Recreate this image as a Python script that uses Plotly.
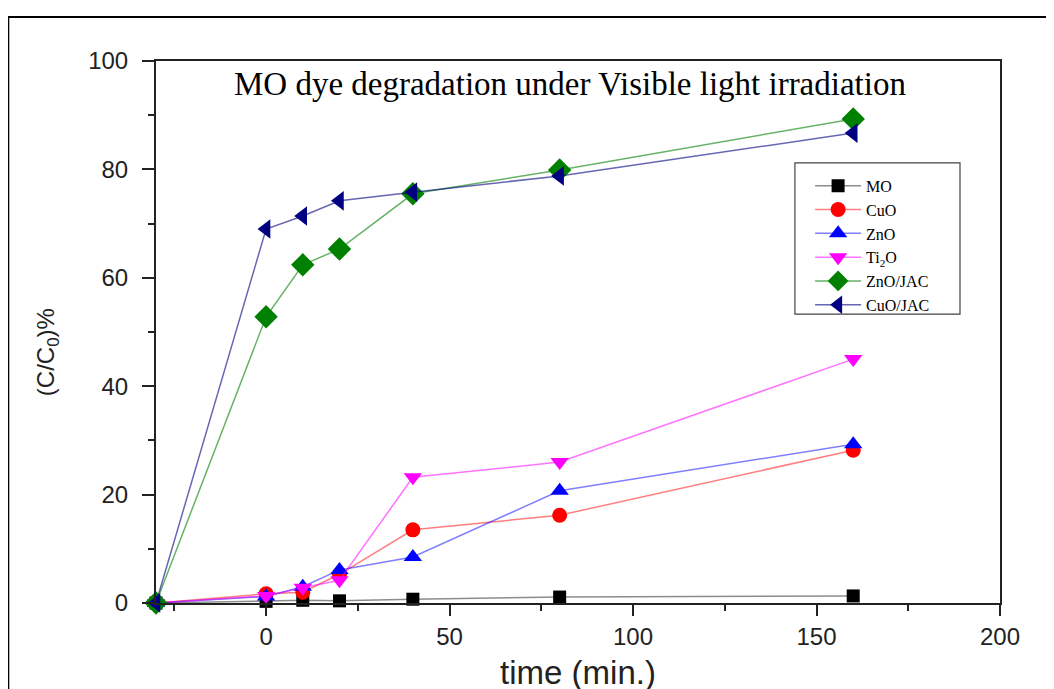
import plotly.graph_objects as go

time = [-30, 0, 10, 20, 40, 80, 160]
mo = [0, 0.3, 0.5, 0.4, 0.7, 1.1, 1.3]
cuo = [0, 1.7, 2.0, 5.3, 13.5, 16.2, 28.2]
zno = [0, 1.2, 3.0, 6.1, 8.5, 20.7, 29.3]
ti2o = [0, 1.3, 2.8, 4.2, 23.2, 26.0, 45.0]
zno_jac = [0, 52.8, 62.4, 65.3, 75.5, 79.9, 89.3]
cuo_jac = [0, 69.0, 71.4, 74.2, 75.8, 78.8, 86.7]

series = [
    ("MO", mo, "black", "rgba(0,0,0,0.45)", "square", 13),
    ("CuO", cuo, "red", "rgba(255,0,0,0.5)", "circle", 15),
    ("ZnO", zno, "blue", "rgba(0,0,255,0.5)", "triangle-up", 16),
    ("Ti<sub>2</sub>O", ti2o, "magenta", "rgba(255,0,255,0.55)", "triangle-down", 16),
    ("ZnO/JAC", zno_jac, "green", "rgba(0,128,0,0.6)", "diamond", 18),
    ("CuO/JAC", cuo_jac, "navy", "rgba(0,0,128,0.6)", "triangle-left", 17),
]

fig = go.Figure()
for name, ys, mc, lc, sym, sz in series:
    fig.add_trace(go.Scatter(
        x=time, y=ys, name=name, mode="lines+markers", cliponaxis=False,
        line=dict(color=lc, width=1.5),
        marker=dict(color=mc, symbol=sym, size=sz, line=dict(width=0)),
    ))

# page body has an 8px margin, so margins are offset by 8px
fig.update_layout(
    width=1054, height=689,
    paper_bgcolor="white", plot_bgcolor="white",
    margin=dict(l=148, r=62, t=53, b=94),
    showlegend=True,
    legend=dict(
        x=0.775, y=0.801, xanchor="left", yanchor="top",
        bgcolor="rgba(0,0,0,0)", borderwidth=0,
        font=dict(family="Liberation Serif", size=16, color="black"),
        tracegroupgap=0, itemwidth=46,
    ),
    annotations=[
        dict(
            text="MO dye degradation under Visible light irradiation",
            xref="paper", yref="paper", x=0.4905, y=0.958, xanchor="center", yanchor="middle",
            showarrow=False, font=dict(family="Liberation Serif", size=33, color="black"),
        ),
        dict(
            text="(C/C<sub>0</sub>)%", textangle=-90,
            xref="paper", yref="paper", x=-0.129, y=0.463, xanchor="center", yanchor="middle",
            showarrow=False, font=dict(family="Liberation Sans", size=24, color="#222"),
        ),
    ],
    shapes=[
        dict(
            type="rect", xref="paper", yref="paper",
            x0=-0.175, x1=1.073, y0=-0.2, y1=1.081,
            line=dict(color="black", width=2), fillcolor="rgba(0,0,0,0)", layer="below",
        ),
        dict(
            type="rect", xref="paper", yref="paper",
            x0=0.757, x1=0.9526, y0=0.533, y1=0.812,
            line=dict(color="#444", width=1.2), fillcolor="white", layer="below",
        ),
    ],
)

fig.update_xaxes(
    range=[-30, 200], tickvals=[0, 50, 100, 150, 200],
    ticks="outside", ticklen=11, tickwidth=2, tickcolor="#222",
    minor=dict(tickvals=[-25, 25, 75, 125, 175], ticks="outside", ticklen=6, tickwidth=2, tickcolor="#222"),
    showline=True, linecolor="#222", linewidth=2, mirror=True,
    showgrid=False, zeroline=False,
    tickfont=dict(family="Liberation Sans", size=24, color="#222"),
    title=dict(text="time (min.)", font=dict(family="Liberation Sans", size=33, color="#222"), standoff=12),
)
fig.update_yaxes(
    range=[0, 100], tickvals=[0, 20, 40, 60, 80, 100],
    ticks="outside", ticklen=12, tickwidth=2, tickcolor="#222",
    minor=dict(tickvals=[10, 30, 50, 70, 90], ticks="outside", ticklen=6, tickwidth=2, tickcolor="#222"),
    showline=True, linecolor="#222", linewidth=2, mirror=True,
    showgrid=False, zeroline=False, ticklabelstandoff=9,
    tickfont=dict(family="Liberation Sans", size=24, color="#222"),
)

fig.write_html("out.html")
